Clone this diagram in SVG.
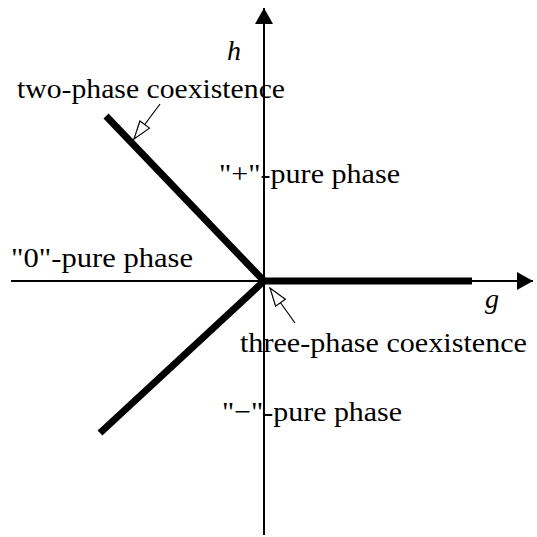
<svg xmlns="http://www.w3.org/2000/svg" width="537" height="537" viewBox="0 0 537 537">
<style>
text{font-family:'Liberation Serif','Times New Roman',Times,'Noto Serif','DejaVu Serif',serif;font-size:28px;fill:#000}
.it{font-style:italic}
.axis{stroke:#000;stroke-width:2;fill:none}
.thick{stroke:#000;stroke-width:7;fill:none;stroke-linecap:butt}
.ptr{stroke:#000;stroke-width:1.2;fill:none}
</style>
<defs>
<marker id="solid" viewBox="0 0 16 18" refX="16" refY="9" markerWidth="16" markerHeight="18" markerUnits="userSpaceOnUse" orient="auto">
<path d="M0,0 L16,9 L0,18 Z" fill="#000"/>
</marker>
<marker id="open" viewBox="0 0 20 14" refX="19" refY="7" markerWidth="20" markerHeight="14" markerUnits="userSpaceOnUse" orient="auto">
<path d="M1,1 L19,7 L1,13 Z" fill="#fff" stroke="#000" stroke-width="1.2"/>
</marker>
</defs>
<g id="connectors">
<line class="axis" x1="264" y1="535" x2="264" y2="8" marker-end="url(#solid)"/>
<line class="axis" x1="11" y1="281" x2="533" y2="281" marker-end="url(#solid)"/>
<line class="thick" x1="264" y1="281" x2="106" y2="116"/>
<line class="thick" x1="264" y1="281" x2="100" y2="433"/>
<line class="thick" x1="264" y1="281" x2="472" y2="281"/>
<line class="ptr" x1="160" y1="104" x2="134" y2="139" marker-end="url(#open)"/>
<line class="ptr" x1="295" y1="323" x2="270" y2="288" marker-end="url(#open)"/>
</g>
<g id="label-h"><text class="it" x="227" y="60">h</text></g>
<g id="label-g"><text class="it" x="485" y="308">g</text></g>
<g id="label-two-phase"><text x="17" y="98" textLength="268" lengthAdjust="spacingAndGlyphs">two-phase coexistence</text></g>
<g id="label-plus"><text x="219" y="183" textLength="181" lengthAdjust="spacingAndGlyphs">"+"-pure phase</text></g>
<g id="label-zero"><text x="11" y="267" textLength="182" lengthAdjust="spacingAndGlyphs">"0"-pure phase</text></g>
<g id="label-three-phase"><text x="240" y="352" textLength="287" lengthAdjust="spacingAndGlyphs">three-phase coexistence</text></g>
<g id="label-minus"><text x="222" y="421" textLength="180" lengthAdjust="spacingAndGlyphs">"−"-pure phase</text></g>
</svg>
